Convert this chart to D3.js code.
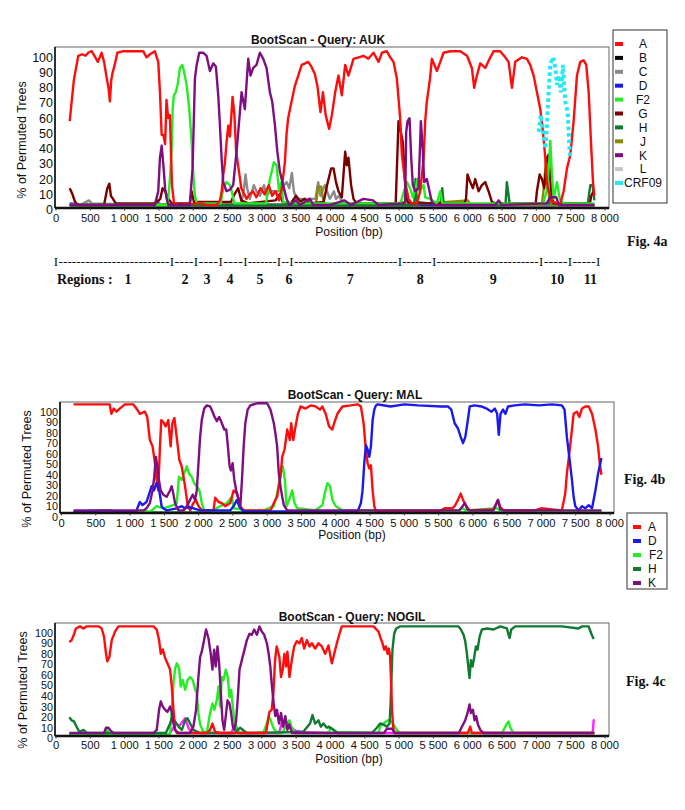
<!DOCTYPE html>
<html><head><meta charset="utf-8">
<script src="https://cdn.jsdelivr.net/npm/d3@7"></script>
<style>body{margin:0;background:#fff}svg{display:block}</style>
</head><body>
<script>
// ---------- tick labels ----------
const xTickValues = [0,500,1000,1500,2000,2500,3000,3500,4000,4500,5000,5500,6000,6500,7000,7500,8000];
const yTickValues = [0,10,20,30,40,50,60,70,80,90,100];

// ---------- Fig 4a : Query AUK  ([position bp, % permuted trees]) ----------
const aukA = [[200,58],[260,85],[325,101],[380,102],[430,101],[470,103],[520,104],[560,101],[610,97],[665,103],[700,97],[740,86],[765,80],[785,71],[805,85],[825,90],[850,94],[895,103],[980,104],[1100,104],[1270,104],[1320,100],[1370,102],[1440,104],[1490,97],[1515,77],[1540,49],[1565,49],[1590,43],[1610,72],[1635,60],[1660,62],[1690,16],[1720,4],[1800,3],[2100,4],[2200,3],[2340,3],[2390,6],[2415,12],[2437,23],[2460,30],[2485,44],[2510,55],[2535,48],[2573,74],[2600,62],[2625,38],[2660,27],[2700,14],[2777,7],[2820,10],[2870,12],[2920,8],[2980,14],[3040,10],[3100,16],[3150,9],[3200,12],[3250,6],[3290,14],[3335,31],[3360,50],[3383,60],[3410,66],[3447,74],[3480,81],[3530,88],[3580,95],[3630,96],[3675,97],[3720,94],[3772,89],[3810,81],[3854,64],[3890,77],[3930,62],[3980,53],[4020,62],[4068,77],[4116,88],[4165,75],[4214,95],[4262,88],[4335,99],[4410,100],[4481,101],[4550,99],[4627,103],[4700,97],[4750,103],[4820,104],[4870,100],[4918,97],[4967,86],[5015,60],[5040,36],[5088,18],[5137,7],[5185,4],[5260,4],[5307,12],[5356,33],[5380,58],[5404,71],[5450,86],[5477,99],[5550,91],[5600,97],[5647,103],[5745,104],[5890,104],[5990,101],[6060,93],[6094,80],[6133,88],[6182,96],[6255,93],[6318,99],[6376,104],[6473,104],[6546,100],[6595,97],[6644,80],[6692,97],[6790,100],[6862,99],[6910,95],[6960,88],[7008,77],[7057,66],[7096,51],[7130,34],[7154,18],[7178,12],[7227,5],[7350,4],[7397,12],[7446,27],[7495,36],[7543,58],[7591,88],[7640,97],[7689,98],[7727,95],[7762,77],[7795,45],[7825,18],[7845,9]];
const aukB = [[200,3],[7845,3]];
const aukC = [[200,3],[330,3],[400,4],[480,6],[520,4],[1400,3],[1480,6],[1520,3],[2700,4],[2735,12],[2762,23],[2786,14],[2825,7],[2883,16],[2922,12],[2971,9],[3030,16],[3068,9],[3117,12],[3240,12],[3360,18],[3400,14],[3437,24],[3466,12],[3505,7],[3780,7],[3820,18],[3854,9],[3917,16],[3990,7],[4050,12],[4080,7],[4120,9],[4190,4],[7845,3]];
const aukD = [[200,4],[400,3],[7845,3]];
const aukF2 = [[200,3],[1610,3],[1636,7],[1665,23],[1685,40],[1700,66],[1718,75],[1745,77],[1772,82],[1806,93],[1840,95],[1864,91],[1903,82],[1942,66],[1976,45],[2000,23],[2024,9],[2050,4],[2400,4],[2437,14],[2485,18],[2534,16],[2560,12],[2600,4],[3060,4],[3117,20],[3175,31],[3213,29],[3250,12],[3285,18],[3310,5],[3500,4],[5020,4],[5070,12],[5113,18],[5160,14],[5200,8],[5240,14],[5268,20],[5297,12],[5356,16],[5380,8],[5453,7],[5550,4],[5599,12],[5630,4],[7100,4],[7150,12],[7185,30],[7203,45],[7227,23],[7251,7],[7300,18],[7340,7],[7400,4],[7845,4]];
const aukG = [[200,14],[240,10],[277,5],[320,3],[700,3],[748,14],[777,17],[800,9],[830,7],[870,4],[1450,4],[1520,7],[1553,14],[1590,12],[1640,7],[1690,4],[1950,4],[1976,12],[2010,5],[2550,5],[2600,10],[2655,14],[2700,6],[2800,4],[3200,6],[3260,10],[3300,5],[3420,4],[3500,9],[3560,5],[3620,7],[3700,4],[3900,5],[3950,16],[4010,27],[4044,27],[4080,18],[4116,12],[4165,8],[4214,38],[4238,29],[4262,34],[4300,16],[4335,7],[4380,4],[4950,4],[4991,58],[5025,51],[5054,44],[5074,29],[5093,12],[5123,5],[5180,4],[5950,4],[5975,7],[5996,23],[6036,18],[6075,14],[6109,20],[6158,12],[6206,16],[6255,18],[6303,12],[6352,5],[6400,4],[6990,4],[7008,12],[7048,23],[7081,20],[7115,14],[7154,34],[7178,36],[7203,20],[7227,7],[7260,4],[7780,4],[7800,9],[7835,12]];
const aukH = [[200,3],[5220,3],[5239,20],[5260,5],[5600,3],[5628,14],[5650,3],[6550,3],[6570,18],[6590,11],[6610,4],[7180,4],[7210,10],[7240,4],[7750,4],[7786,16],[7820,16],[7845,6]];
const aukJ = [[200,3],[3780,3],[3800,7],[3820,15],[3866,15],[3890,7],[3920,3],[4900,3],[5050,5],[5100,3],[6000,6],[6050,3],[7080,3],[7110,15],[7140,33],[7165,20],[7190,5],[7220,3],[7845,3]];
const aukK = [[200,3],[1440,3],[1490,12],[1515,34],[1540,42],[1565,29],[1590,14],[1612,7],[1640,3],[1950,3],[1990,27],[2024,86],[2050,95],[2087,103],[2145,103],[2194,101],[2243,91],[2291,96],[2330,94],[2364,75],[2388,56],[2413,34],[2437,18],[2485,12],[2534,13],[2582,16],[2631,38],[2665,56],[2704,77],[2752,66],[2801,99],[2835,88],[2874,93],[2922,95],[2971,103],[3020,99],[3068,93],[3117,77],[3150,71],[3189,56],[3225,38],[3262,25],[3310,16],[3360,7],[3400,3],[3500,6],[3550,3],[3700,7],[3750,3],[4000,3],[4200,6],[4300,3],[4480,7],[4620,6],[4700,3],[5060,4],[5088,5],[5103,51],[5123,58],[5152,60],[5176,34],[5200,16],[5234,12],[5283,14],[5317,58],[5346,38],[5365,18],[5404,20],[5443,12],[5477,5],[5520,3],[6400,3],[6450,6],[6500,3],[7150,4],[7200,8],[7290,8],[7330,3],[7845,3]];
const aukL = [[200,2],[7845,2]];
const aukCRF09 = [[7033,51],[7065,62],[7105,49],[7130,40],[7154,55],[7178,77],[7203,95],[7242,100],[7276,93],[7300,82],[7330,88],[7358,77],[7388,95],[7405,82],[7422,71],[7456,64],[7485,38],[7500,33]];

// ---------- Fig 4b : Query MAL ----------
const malA = [[176,107],[703,107],[728,98],[762,103],[801,100],[850,103],[923,107],[1045,107],[1104,102],[1143,98],[1216,100],[1250,95],[1289,73],[1328,67],[1363,51],[1387,35],[1411,25],[1436,67],[1455,92],[1485,90],[1519,86],[1558,92],[1592,67],[1617,89],[1646,94],[1680,76],[1719,54],[1753,48],[1802,29],[1836,13],[1875,6],[1924,13],[1960,16],[2000,10],[2050,6],[2217,6],[2242,18],[2291,14],[2339,13],[2388,10],[2462,13],[2510,25],[2559,22],[2608,10],[2657,6],[3050,6],[3097,13],[3145,19],[3194,38],[3219,57],[3253,64],[3292,83],[3331,73],[3350,89],[3380,73],[3414,86],[3448,98],[3487,105],[3560,103],[3634,106],[3707,105],[3771,102],[3805,105],[3853,98],[3902,86],[3951,83],[3976,89],[4024,98],[4098,105],[4220,106],[4318,107],[4367,105],[4406,89],[4435,67],[4464,51],[4489,46],[4513,49],[4538,25],[4562,10],[4587,5],[5500,5],[5587,8],[5700,8],[5734,10],[5783,16],[5822,22],[5856,16],[5905,10],[5954,6],[6300,7],[6366,16],[6400,9],[6450,6],[6900,6],[7000,8],[7150,7],[7298,6],[7347,22],[7371,41],[7406,60],[7445,83],[7469,98],[7518,100],[7552,95],[7591,103],[7640,105],[7690,105],[7738,98],[7787,83],[7826,67],[7850,51],[7875,40]];
const malD = [[176,5],[703,6],[777,5],[1090,5],[1118,10],[1143,14],[1182,11],[1240,14],[1280,22],[1314,29],[1348,25],[1387,32],[1426,25],[1460,10],[1485,8],[1534,6],[1680,8],[1753,10],[1800,8],[1850,9],[1924,8],[2022,6],[2460,6],[2510,10],[2559,16],[2598,9],[2657,5],[4320,5],[4367,13],[4391,25],[4416,51],[4440,68],[4464,64],[4489,57],[4513,67],[4538,92],[4562,102],[4587,106],[4611,107],[4800,105],[5000,107],[5200,106],[5538,105],[5636,105],[5685,102],[5734,89],[5783,84],[5822,76],[5856,70],[5890,76],[5920,89],[5954,105],[6027,106],[6125,105],[6200,103],[6271,100],[6320,103],[6354,98],[6378,78],[6403,98],[6440,102],[6475,98],[6513,105],[6610,106],[6760,107],[6960,106],[7151,107],[7298,106],[7337,102],[7371,76],[7406,57],[7445,35],[7469,19],[7494,10],[7542,6],[7591,10],[7640,8],[7690,11],[7738,8],[7787,25],[7826,41],[7875,56]];
const malF2 = [[176,5],[1300,5],[1387,10],[1485,8],[1583,10],[1631,11],[1680,13],[1714,38],[1753,35],[1788,41],[1827,48],[1861,41],[1900,38],[1934,32],[1973,29],[2012,25],[2046,13],[2081,6],[2200,6],[2315,10],[2413,13],[2486,19],[2510,8],[2620,7],[2700,6],[2950,6],[3097,10],[3145,22],[3194,41],[3228,48],[3258,35],[3282,10],[3321,16],[3365,25],[3399,13],[3438,8],[3700,6],[3805,11],[3839,22],[3878,32],[3917,29],[3951,16],[4000,10],[4049,8],[4100,6],[5800,6],[5850,8],[5900,6],[6350,8],[6400,6],[7875,5]];
const malH = [[176,4],[7875,4]];
const malK = [[176,6],[1200,6],[1240,8],[1289,13],[1328,25],[1353,38],[1377,57],[1397,48],[1421,35],[1446,25],[1485,21],[1534,19],[1583,25],[1607,29],[1631,22],[1656,13],[1705,6],[1780,6],[1827,10],[1875,16],[1915,21],[1949,16],[1973,25],[1998,51],[2022,76],[2046,92],[2081,103],[2120,106],[2168,105],[2203,100],[2232,95],[2266,91],[2300,95],[2339,89],[2374,83],[2403,83],[2427,67],[2452,48],[2471,44],[2496,51],[2520,35],[2549,25],[2584,16],[2608,10],[2632,35],[2657,67],[2681,89],[2715,102],[2755,106],[2852,108],[2999,108],[3048,102],[3097,89],[3121,79],[3145,67],[3170,41],[3194,29],[3219,19],[3243,11],[3292,6],[5800,6],[5850,10],[5881,13],[5920,7],[5960,6],[6300,6],[6366,16],[6400,7],[6450,6],[7875,6]];

// ---------- Fig 4c : Query NOGIL ----------
const nogilA = [[194,91],[228,93],[260,98],[290,104],[350,106],[400,104],[447,106],[545,106],[620,106],[666,104],[700,96],[729,80],[748,73],[778,77],[812,93],[860,101],[909,106],[1030,106],[1225,106],[1420,106],[1468,103],[1502,93],[1527,80],[1556,84],[1590,76],[1624,71],[1663,65],[1687,49],[1712,27],[1736,8],[1760,5],[2200,5],[2245,8],[2280,14],[2318,6],[2400,5],[3060,5],[3110,25],[3143,27],[3168,43],[3192,74],[3216,87],[3255,77],[3279,58],[3304,65],[3328,80],[3353,68],[3372,82],[3402,58],[3436,74],[3470,87],[3509,92],[3548,90],[3582,95],[3616,85],[3656,93],[3694,87],[3728,90],[3777,85],[3825,90],[3874,87],[3922,80],[3970,88],[4019,71],[4043,77],[4092,90],[4131,99],[4165,106],[4287,106],[4481,106],[4627,106],[4700,101],[4724,96],[4758,90],[4782,84],[4806,87],[4831,80],[4850,85],[4869,77],[4884,52],[4898,24],[4918,8],[4943,5],[6000,5],[6036,11],[6060,5],[7845,5]];
const nogilF2 = [[194,4],[730,4],[740,8],[780,4],[1660,4],[1687,27],[1712,52],[1736,66],[1760,71],[1794,66],[1818,49],[1848,55],[1882,46],[1916,55],[1955,58],[1994,55],[2029,46],[2050,43],[2075,24],[2100,13],[2148,6],[2200,6],[2245,24],[2280,33],[2308,27],[2343,36],[2368,49],[2392,30],[2416,58],[2440,55],[2474,65],[2503,58],[2528,39],[2552,46],[2577,30],[2600,17],[2635,8],[2680,5],[3020,5],[3073,14],[3099,21],[3128,17],[3168,10],[3220,5],[3300,5],[3363,14],[3402,17],[3436,10],[3485,5],[3980,5],[3995,10],[4093,6],[4700,5],[4724,11],[4773,14],[4830,17],[4869,17],[4908,14],[4967,8],[5015,5],[6500,5],[6571,14],[6595,16],[6620,10],[6667,5],[7845,5]];
const nogilH = [[194,20],[228,17],[262,16],[300,11],[340,6],[400,8],[450,5],[1600,5],[1663,14],[1687,19],[1736,16],[1785,11],[1834,8],[1882,17],[1916,19],[1955,14],[2002,8],[2100,5],[2600,5],[2683,10],[2780,5],[3600,6],[3702,14],[3737,22],[3775,14],[3825,17],[3858,11],[3897,14],[3946,10],[3978,11],[4043,8],[4100,5],[4600,5],[4676,10],[4724,14],[4773,13],[4821,11],[4860,14],[4874,30],[4889,58],[4903,84],[4928,99],[4957,104],[5015,106],[5210,106],[5453,106],[5696,106],[5866,106],[5900,103],[5939,98],[5963,92],[5988,80],[6012,65],[6026,57],[6046,74],[6070,68],[6095,77],[6119,87],[6143,84],[6172,96],[6206,103],[6279,104],[6376,103],[6474,106],[6571,104],[6595,98],[6610,95],[6634,103],[6692,106],[6983,106],[7372,106],[7615,104],[7664,106],[7762,106],[7801,99],[7835,94]];
const nogilK = [[194,5],[700,5],[729,10],[763,10],[800,7],[840,5],[1420,5],[1468,8],[1502,27],[1527,35],[1556,30],[1590,27],[1624,25],[1663,30],[1687,25],[1712,14],[1736,8],[1785,5],[1955,5],[2002,11],[2041,27],[2075,58],[2100,77],[2124,82],[2158,93],[2187,103],[2221,95],[2255,80],[2280,65],[2304,84],[2328,68],[2353,87],[2377,71],[2402,43],[2426,17],[2450,8],[2474,21],[2499,36],[2528,33],[2552,24],[2577,11],[2600,8],[2625,17],[2650,39],[2674,65],[2708,74],[2747,84],[2781,93],[2820,99],[2854,98],[2888,103],[2927,98],[2966,106],[3000,101],[3034,98],[3073,90],[3099,80],[3123,68],[3147,49],[3172,33],[3196,21],[3220,27],[3250,14],[3279,24],[3308,11],[3342,21],[3372,8],[3400,13],[3440,5],[4780,5],[4820,9],[4900,9],[4930,5],[5870,5],[5915,11],[5963,17],[5997,24],[6026,32],[6046,24],[6075,27],[6099,17],[6123,21],[6148,13],[6182,8],[6230,5],[7845,5]];
const nogilM = [[194,4],[1650,4],[1712,10],[1736,14],[1800,12],[1858,17],[1882,19],[1930,10],[1980,5],[2550,5],[2590,10],[2616,14],[2640,8],[2680,5],[3250,5],[3300,17],[3340,10],[3400,14],[3440,9],[3500,7],[3600,6],[4000,5],[7820,5],[7835,17],[7845,18]];

// ---------- regions of Fig 4a ----------
const regionBounds = [0,1690,2040,2400,2760,3250,3430,5010,5510,7070,7490,7900];
const regionNames = ["1","2","3","4","5","6","7","8","9","10","11"];
const regionLabelPos = [1050,1880,2200,2537,2974,3397,4287,5307,6372,7305,7786];

// ---------- legends ----------
const legendA = ["A","B","C","D","F2","G","H","J","K","L","CRF09"];
const legendB = ["A","D","F2","H","K"];

const COL = {A:"#ff0d0d",B:"#000000",C:"#8a8a8a",D:"#1a1aee",F2:"#22ee22",G:"#7a0000",H:"#0f7a30",J:"#8a8a00",K:"#7f0f80",L:"#c6c6c6",CRF09:"#22e8f8",M:"#ff22ff"};

const SANS = "'Liberation Sans', Arial, Helvetica, sans-serif";
const SERIF = "'Liberation Serif', 'Times New Roman', serif";
const fmt = d3.formatLocale({decimal:".", thousands:" ", grouping:[3], currency:["",""]}).format(",");

const svg = d3.select("body").append("svg").attr("width",685).attr("height",810);
svg.append("rect").attr("width",685).attr("height",810).attr("fill","#fff");

const panels = [
  {title:"BootScan - Query: AUK", tx:318, ty:44, xr:[56,605], yr:[209.5,57.3], fr:[55,47,609,208], ylx:26, yly:140, xly:222, pY:236, pX:349, yfs:12.5,
   series:[["L",aukL],["B",aukB],["D",aukD],["C",aukC],["J",aukJ],["H",aukH],["G",aukG],["F2",aukF2],["A",aukA],["K",aukK]], dotted:aukCRF09},
  {title:"BootScan - Query: MAL", tx:355, ty:399, xr:[61.5,610], yr:[516.7,411.7], fr:[60,402,614,513], ylx:31, yly:469, xly:527, pY:539, pX:352, yfs:10.8,
   series:[["H",malH],["F2",malF2],["A",malA],["D",malD],["K",malK]]},
  {title:"BootScan - Query: NOGIL", tx:352, ty:621, xr:[56,605], yr:[738.3,632.7], fr:[55,623,609,736], ylx:27, yly:690, xly:749, pY:763, pX:349, yfs:10.8,
   series:[["M",nogilM],["F2",nogilF2],["H",nogilH],["A",nogilA],["K",nogilK]]}
];

panels.forEach(p => {
  const x = d3.scaleLinear().domain([0,8000]).range(p.xr);
  const y = d3.scaleLinear().domain([0,100]).range(p.yr);
  const g = svg.append("g");
  const [fl,ft,frr,fb] = p.fr;
  g.append("rect").attr("x",fl).attr("y",ft).attr("width",frr-fl).attr("height",fb-ft)
    .attr("fill","none").attr("stroke","#666").attr("stroke-width",1);
  const line = d3.line().x(d=>x(d[0])).y(d=>y(d[1]));
  p.series.forEach(([k,data]) => {
    g.append("path").datum(data).attr("d",line).attr("fill","none")
      .attr("stroke",COL[k]).attr("stroke-width",2.4).attr("stroke-linejoin","round");
  });
  if (p.dotted) {
    g.append("path").datum(p.dotted).attr("d",line).attr("fill","none")
      .attr("stroke",COL.CRF09).attr("stroke-width",4).attr("stroke-dasharray","3.5,3");
  }
  g.append("line").attr("x1",fl).attr("x2",fl).attr("y1",ft).attr("y2",fb).attr("stroke","#111").attr("stroke-width",1.6);
  g.append("line").attr("x1",fl).attr("x2",frr).attr("y1",fb).attr("y2",fb).attr("stroke","#111").attr("stroke-width",2.4);
  g.selectAll(null).data(xTickValues).enter().append("line")
    .attr("x1",d=>x(d)).attr("x2",d=>x(d)).attr("y1",fb).attr("y2",fb+2.5).attr("stroke","#333").attr("stroke-width",1);
  g.selectAll(null).data(xTickValues).enter().append("text")
    .attr("x",d=>x(d)).attr("y",p.xly).attr("text-anchor","middle")
    .attr("font-family",SANS).attr("font-size",11.2).attr("fill","#111").text(d=>fmt(d));
  g.selectAll(null).data(yTickValues).enter().append("text")
    .attr("x",fl-2).attr("y",d=>y(d)).attr("dy","0.36em").attr("text-anchor","end")
    .attr("font-family",SANS).attr("font-size",p.yfs).attr("fill","#111").text(d=>d);
  g.append("text").attr("x",p.tx).attr("y",p.ty).attr("text-anchor","middle")
    .attr("font-family",SANS).attr("font-weight","bold").attr("font-size",12).attr("fill","#111").text(p.title);
  g.append("text").attr("transform",`translate(${p.ylx},${p.yly}) rotate(-90)`).attr("text-anchor","middle")
    .attr("font-family",SANS).attr("font-size",12.5).attr("fill","#111").text("% of Permuted Trees");
  g.append("text").attr("x",p.pX).attr("y",p.pY).attr("text-anchor","middle")
    .attr("font-family",SANS).attr("font-size",12).attr("fill","#111").text("Position (bp)");
});

// legend a
const lgA = svg.append("g");
lgA.append("rect").attr("x",613).attr("y",30).attr("width",54).attr("height",173).attr("fill","#fff").attr("stroke","#333").attr("stroke-width",1);
legendA.forEach((k,i) => {
  const yy = 44 + i*13.9;
  lgA.append("rect").attr("x",615).attr("y",yy-2).attr("width",8).attr("height",4).attr("fill",COL[k]);
  lgA.append("text").attr("x",643).attr("y",yy).attr("dy","0.36em").attr("text-anchor","middle")
    .attr("font-family",SANS).attr("font-size",12).attr("fill","#111").text(k);
});
// legend b
const lgB = svg.append("g");
lgB.append("rect").attr("x",627).attr("y",513).attr("width",40).attr("height",76).attr("fill","#fff").attr("stroke","#333").attr("stroke-width",1);
legendB.forEach((k,i) => {
  const yy = 527 + i*14;
  lgB.append("rect").attr("x",633).attr("y",yy-2).attr("width",8).attr("height",4).attr("fill",COL[k]);
  lgB.append("text").attr("x",(k==="F2"?649:648)).attr("y",yy).attr("dy","0.36em")
    .attr("font-family",SANS).attr("font-size",12).attr("fill","#111").text(k);
});

// fig labels
[["Fig. 4a",627,246],["Fig. 4b",624,484],["Fig. 4c",626,686]].forEach(([t,xx,yy]) => {
  svg.append("text").attr("x",xx).attr("y",yy).attr("font-family",SERIF).attr("font-weight","bold")
    .attr("font-size",14).attr("fill","#111").text(t);
});

// regions row
const xa = d3.scaleLinear().domain([0,8000]).range([56,605]);
const rg = svg.append("g").attr("font-family",SERIF).attr("fill","#111");
regionBounds.forEach(b => {
  rg.append("text").attr("x",xa(b)).attr("y",266).attr("text-anchor","middle").attr("font-size",13).text("I");
});
for (let i=0;i<regionBounds.length-1;i++){
  const a = xa(regionBounds[i])+2.5, b = xa(regionBounds[i+1])-2.5;
  const n = Math.max(1, Math.round((b-a)/4.4));
  rg.append("text").attr("x",a).attr("y",266).attr("font-size",13)
    .attr("textLength",b-a).attr("lengthAdjust","spacingAndGlyphs").text("-".repeat(n));
}
rg.append("text").attr("x",57).attr("y",284).attr("font-size",14).attr("font-weight","bold").text("Regions :");
regionNames.forEach((t,i) => {
  rg.append("text").attr("x",xa(regionLabelPos[i])).attr("y",284).attr("text-anchor","middle")
    .attr("font-size",14).attr("font-weight","bold").text(t);
});
</script>
</body></html>
